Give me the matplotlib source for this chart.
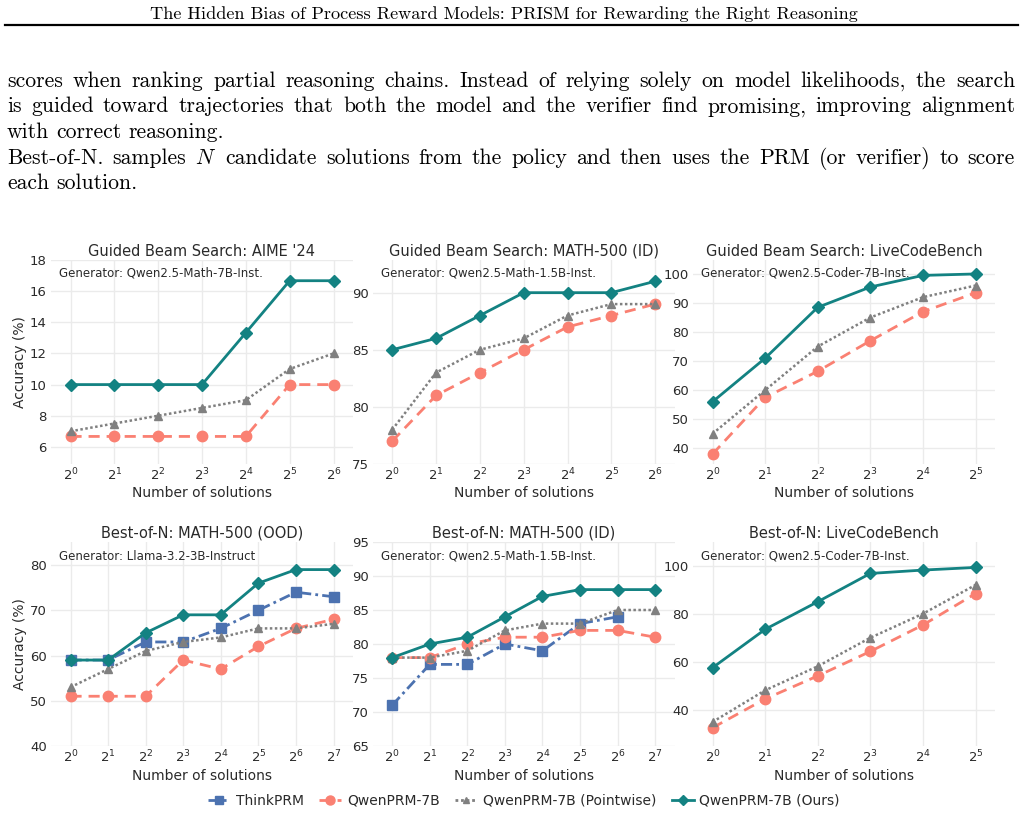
import matplotlib
matplotlib.use("Agg")
import matplotlib.pyplot as plt
from matplotlib.lines import Line2D

# ---------------- data ----------------
series_names = ["ThinkPRM", "QwenPRM-7B", "QwenPRM-7B (Pointwise)", "QwenPRM-7B (Ours)"]

panel_titles = [
    "Guided Beam Search: AIME '24",
    "Guided Beam Search: MATH-500 (ID)",
    "Guided Beam Search: LiveCodeBench",
    "Best-of-N: MATH-500 (OOD)",
    "Best-of-N: MATH-500 (ID)",
    "Best-of-N: LiveCodeBench",
]
generators = [
    "Generator: Qwen2.5-Math-7B-Inst.",
    "Generator: Qwen2.5-Math-1.5B-Inst.",
    "Generator: Qwen2.5-Coder-7B-Inst.",
    "Generator: Llama-3.2-3B-Instruct",
    "Generator: Qwen2.5-Math-1.5B-Inst.",
    "Generator: Qwen2.5-Coder-7B-Inst.",
]

# exponents k of N = 2^k
exp_0_6 = [0, 1, 2, 3, 4, 5, 6]
exp_0_5 = [0, 1, 2, 3, 4, 5]
exp_0_7 = [0, 1, 2, 3, 4, 5, 6, 7]

# Guided Beam Search: AIME '24
gbs_aime_qwen = [6.67, 6.67, 6.67, 6.67, 6.67, 10, 10]
gbs_aime_pointwise = [7, 7.5, 8, 8.5, 9, 11, 12]
gbs_aime_ours = [10, 10, 10, 10, 13.33, 16.67, 16.67]

# Guided Beam Search: MATH-500 (ID)
gbs_math_qwen = [77, 81, 83, 85, 87, 88, 89]
gbs_math_pointwise = [78, 83, 85, 86, 88, 89, 89]
gbs_math_ours = [85, 86, 88, 90, 90, 90, 91]

# Guided Beam Search: LiveCodeBench
gbs_lcb_qwen = [38, 57.5, 66.5, 77, 87, 93.5]
gbs_lcb_pointwise = [45, 60, 75, 85, 92, 96]
gbs_lcb_ours = [56, 71, 88.5, 95.5, 99.5, 100]

# Best-of-N: MATH-500 (OOD)
bon_ood_think = [59, 59, 63, 63, 66, 70, 74, 73]
bon_ood_qwen = [51, 51, 51, 59, 57, 62, 66, 68]
bon_ood_pointwise = [53, 57, 61, 63, 64, 66, 66, 67]
bon_ood_ours = [59, 59, 65, 69, 69, 76, 79, 79]

# Best-of-N: MATH-500 (ID)
bon_id_think = [71, 77, 77, 80, 79, 83, 84]
bon_id_qwen = [78, 78, 80, 81, 81, 82, 82, 81]
bon_id_pointwise = [78, 78, 79, 82, 83, 83, 85, 85]
bon_id_ours = [78, 80, 81, 84, 87, 88, 88, 88]

# Best-of-N: LiveCodeBench
bon_lcb_qwen = [32.6, 44.6, 54.2, 64.4, 75.4, 88.5]
bon_lcb_pointwise = [35, 48.2, 58.2, 70.1, 80.1, 92.1]
bon_lcb_ours = [57.6, 73.6, 85.1, 96.9, 98.3, 99.4]

y_ticks = [
    [6, 8, 10, 12, 14, 16, 18],
    [75, 80, 85, 90],
    [40, 50, 60, 70, 80, 90, 100],
    [40, 50, 60, 70, 80],
    [65, 70, 75, 80, 85, 90, 95],
    [40, 60, 80, 100],
]
y_ranges = [(4.9, 18.0), (75, 92.86), (34.6, 104.8), (40, 85.1), (65, 95), (25, 110)]

header_text = "The Hidden Bias of Process Reward Models: PRISM for Rewarding the Right Reasoning"
body_lines = [
    ("scores when ranking partial reasoning chains. Instead of relying solely on model likelihoods, the search", True),
    ("is guided toward trajectories that both the model and the verifier find promising, improving alignment", True),
    ("with correct reasoning.", False),
    ("Best-of-N. samples $N$ candidate solutions from the policy and then uses the PRM (or verifier) to score", True),
    ("each solution.", False),
]

# ---------------- styling ----------------
colors = {"ThinkPRM": "#4C72B0", "QwenPRM-7B": "#FA8072",
          "QwenPRM-7B (Pointwise)": "#808080", "QwenPRM-7B (Ours)": "#138282"}
styles = {
    "ThinkPRM": dict(ls=(0, (4, 1.5, 1, 1.5)), marker="s", ms=7, lw=2),
    "QwenPRM-7B": dict(ls=(0, (4, 2.5)), marker="o", ms=7.5, lw=2),
    "QwenPRM-7B (Pointwise)": dict(ls=(0, (1, 1)), marker="^", ms=6, lw=1.8),
    "QwenPRM-7B (Ours)": dict(ls="-", marker="D", ms=6.5, lw=2),
}

W, H = 1023, 816
fig = plt.figure(figsize=(W / 100, H / 100), dpi=100)
renderer = fig.canvas.get_renderer()

def fx(px):
    return px / W

def fy(py):
    return 1 - py / H

TXT = "#2a2a2a"

# ---------- page text ----------
fig.add_artist(Line2D([fx(5), fx(1018)], [fy(24.5), fy(24.5)], color="black", lw=1.6))

ht = fig.text(fx(504), fy(19), header_text, family="cmr10", fontsize=10,
              ha="center", va="baseline", color="black")
wh = ht.get_window_extent(renderer).width
ht.set_fontsize(10 * 708 / wh)

body_fs = 15.6
x_left, x_right = 7, 1015
base0, lead = 87, 25.5
space_px = 0.333 * body_fs * 100 / 72
for i, (line, justify) in enumerate(body_lines):
    words = line.split(" ")
    y = fy(base0 + i * lead)
    arts, widths = [], []
    for w in words:
        t = fig.text(0, y, w, family="cmr10", math_fontfamily="cm", fontsize=body_fs,
                     va="baseline", ha="left", color="black")
        arts.append(t)
        widths.append(t.get_window_extent(renderer).width)
    if justify and len(words) > 1:
        gap = (x_right - x_left - sum(widths)) / (len(words) - 1)
    else:
        gap = space_px
    x = x_left
    for t, wd in zip(arts, widths):
        t.set_x(fx(x))
        x += wd + gap

# ---------- charts ----------
panel_series = [
    (exp_0_6, {"QwenPRM-7B": gbs_aime_qwen, "QwenPRM-7B (Pointwise)": gbs_aime_pointwise,
               "QwenPRM-7B (Ours)": gbs_aime_ours}),
    (exp_0_6, {"QwenPRM-7B": gbs_math_qwen, "QwenPRM-7B (Pointwise)": gbs_math_pointwise,
               "QwenPRM-7B (Ours)": gbs_math_ours}),
    (exp_0_5, {"QwenPRM-7B": gbs_lcb_qwen, "QwenPRM-7B (Pointwise)": gbs_lcb_pointwise,
               "QwenPRM-7B (Ours)": gbs_lcb_ours}),
    (exp_0_7, {"ThinkPRM": bon_ood_think, "QwenPRM-7B": bon_ood_qwen,
               "QwenPRM-7B (Pointwise)": bon_ood_pointwise, "QwenPRM-7B (Ours)": bon_ood_ours}),
    (exp_0_7, {"ThinkPRM": bon_id_think, "QwenPRM-7B": bon_id_qwen,
               "QwenPRM-7B (Pointwise)": bon_id_pointwise, "QwenPRM-7B (Ours)": bon_id_ours}),
    (exp_0_5, {"QwenPRM-7B": bon_lcb_qwen, "QwenPRM-7B (Pointwise)": bon_lcb_pointwise,
               "QwenPRM-7B (Ours)": bon_lcb_ours}),
]

col_left = [51, 372.7, 693]
panel_w = 302
row_top = [260, 542]
panel_h = 204
title_y = [251, 533]
gen_y = [273, 556]
pad_px = 19.5

for idx, (exps, data) in enumerate(panel_series):
    r, c = divmod(idx, 3)
    l, t = col_left[c], row_top[r]
    ax = fig.add_axes([fx(l), fy(t + panel_h), panel_w / W, panel_h / H])
    n = len(exps)
    step = (panel_w - 2 * pad_px) / (n - 1)
    p = pad_px / step
    ax.set_xlim(exps[0] - p, exps[-1] + p)
    ax.set_ylim(*y_ranges[idx])
    ax.set_xticks(exps)
    ax.set_xticklabels([f"$2^{{{k}}}$" for k in exps], fontsize=9.5, color=TXT)
    ax.set_yticks(y_ticks[idx])
    ax.set_yticklabels([str(v) for v in y_ticks[idx]], fontsize=9.5, color=TXT)
    ax.tick_params(length=0, pad=3)
    ax.tick_params(axis="x", pad=2)
    for s in ax.spines.values():
        s.set_visible(False)
    ax.grid(True, color="#ebebeb", lw=1)
    ax.set_axisbelow(True)
    for name in series_names:
        if name not in data:
            continue
        vals = data[name]
        st = styles[name]
        ax.plot(exps[:len(vals)], vals, color=colors[name], lw=st["lw"],
                ls=st["ls"], marker=st["marker"], ms=st["ms"], mec=colors[name],
                mfc=colors[name], clip_on=False, zorder=3)
    fig.text(fx(l + panel_w / 2), fy(title_y[r]), panel_titles[idx], ha="center", va="center",
             fontsize=10.5, color=TXT)
    fig.text(fx(l + 8), fy(gen_y[r]), generators[idx], ha="left", va="center",
             fontsize=8.5, color=TXT)
    fig.text(fx(l + panel_w / 2), fy(493 if r == 0 else 776), "Number of solutions",
             ha="center", va="center", fontsize=10, color=TXT)

for yc in [362, 644]:
    fig.text(fx(20), fy(yc), "Accuracy (%)", rotation=90, ha="center", va="center",
             fontsize=10, color=TXT)

handles = [Line2D([], [], color=colors[n], ls=styles[n]["ls"], lw=2, marker=styles[n]["marker"],
                  ms=styles[n]["ms"] - 1, mfc=colors[n], mec=colors[n]) for n in series_names]
fig.legend(handles, series_names, loc="center", bbox_to_anchor=(fx(524), fy(801)), ncol=4,
           frameon=False, fontsize=10, handlelength=1.6, columnspacing=1.1, handletextpad=0.4,
           labelcolor=TXT)

fig.savefig("out.png", dpi=100, facecolor="white")
